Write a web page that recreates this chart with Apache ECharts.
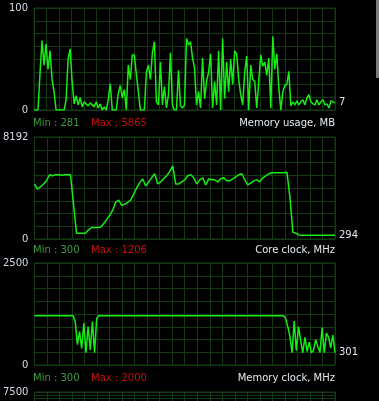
<!DOCTYPE html>
<html><head><meta charset="utf-8">
<script src="https://cdn.jsdelivr.net/npm/echarts/dist/echarts.min.js"></script>
<style>html,body{margin:0;padding:0;background:#000;}#c{width:379px;height:401px;}</style>
</head><body><div id="c"></div>
<script>
// GPU usage, % (one sample every ~2 px of timeline)
const gpuUsage = [
  0,0,0,36,68,44,65,40,58,30,18,
  0,0,0,0,0,
  10,50,60,28,6,
  14,5,12,3,8,6,4,7,5,3,
  8,2,6,0,3,0,10,26,0,0,
  0,16,24,12,20,0,44,30,54,54,
  35,18,0,0,0,37,44,30,56,67,
  8,5,47,5,23,2,15,56,5,0,
  0,39,4,2,5,70,64,67,51,41,
  5,18,2,51,11,28,37,55,2,28,
  5,58,0,70,11,47,18,50,25,58,
  55,30,15,5,37,53,0,44,30,28,
  2,28,54,43,47,34,51,2,72,40,
  55,22,0,18,24,25,38,4,8,5,
  9,5,8,10,5,12,15,8,6,5,
  10,5,8,10,5,6,2,9,8,7
];
// Memory usage, MB
const memUsage = [
  4424,4014,4178,4424,4669,5161,5079,5161,5161,5120,
  5161,5161,5161,2785,459,459,459,459,737,926,
  926,926,942,1229,1556,1884,2294,2949,3113,2703,
  2785,2949,3113,3604,4096,4506,4833,4260,4588,4915,
  5243,4424,4588,4833,5079,5407,5865,4424,4424,4588,
  4751,5079,5161,4915,4424,4751,4915,4342,4833,4751,
  4751,4588,4833,4915,4669,4669,4833,4997,5161,5243,
  4751,4342,4506,4669,4751,4588,4915,5079,5243,5325,
  5325,5325,5325,5325,5366,3359,532,467,328,294,
  294,294,294,294,294,294,294,294,294,294,294
];
// Core clock, MHz
const coreClock = [
  1206,1206,1206,1206,1206,1206,1206,1206,1206,1206,
  1206,1206,1206,1206,1206,1206,1206,1206,1206,
  1062,500,817,408,1021,300,939,368,1062,300,1144,
  1206,1206,1206,1206,1206,1206,1206,1206,1206,1206,
  1206,1206,1206,1206,1206,1206,1206,1206,1206,1206,
  1206,1206,1206,1206,1206,1206,1206,1206,1206,1206,
  1206,1206,1206,1206,1206,1206,1206,1206,1206,1206,
  1206,1206,1206,1206,1206,1206,1206,1206,1206,1206,
  1206,1206,1206,1206,1206,1206,1206,1206,1206,1206,
  1206,1206,1206,1206,1206,1206,1206,1206,1206,1206,
  1206,1206,1206,1206,1206,1206,1206,1206,1206,1206,
  1206,1206,1206,1206,1206,1206,1206,
  1144,939,700,300,1080,350,940,600,300,680,330,560,
  300,360,620,450,310,915,300,780,680,420,735,301
];
const yMaxValues = [100, 8192, 2500, 7500];
const headerTitles = ['GPU usage, %', 'Memory usage, MB', 'Core clock, MHz', 'Memory clock, MHz'];
const headerMin = ['', 'Min : 281', 'Min : 300', 'Min : 300'];
const headerMax = ['', 'Max : 5865', 'Max : 1206', 'Max : 2000'];
const seriesData = [gpuUsage, memUsage, coreClock];

const FONT = '"DejaVu Sans", sans-serif';
const GRIDC = '#133a13';
const LINEC = '#14ee14';
const tops = [8, 137, 263, 392];
const headerY = [-5, 123, 250.5, 378];

const grid = [], xAxis = [], yAxis = [], series = [], graphic = [];
for (let i = 0; i < 4; i++) {
  grid.push({left: 34, top: tops[i], width: 301, height: 102, show: true,
    borderColor: GRIDC, borderWidth: 1, backgroundColor: '#000'});
  const n = i < 3 ? seriesData[i].length : 2;
  xAxis.push({type: 'category', gridIndex: i, boundaryGap: false, show: false,
    data: Array.from({length: n}, (_, k) => k)});
  xAxis.push({type: 'value', gridIndex: i, min: 0, max: 24, interval: 1, position: 'top',
    axisLine: {show: false}, axisTick: {show: false}, axisLabel: {show: false},
    splitLine: {show: true, lineStyle: {color: GRIDC, width: 1}}});
  const mx = yMaxValues[i];
  yAxis.push({type: 'value', gridIndex: i, min: 0, max: mx, interval: mx / 8,
    axisLine: {show: false}, axisTick: {show: false},
    splitLine: {show: true, lineStyle: {color: GRIDC, width: 1}},
    axisLabel: {color: '#d4dde8', fontSize: 10, fontFamily: FONT, margin: 6,
      showMinLabel: true, showMaxLabel: true,
      formatter: v => (Math.abs(v) < 1e-6 || Math.abs(v - mx) < 1e-6) ? String(Math.round(v)) : ''}});
  if (i < 3) {
    const d = seriesData[i];
    series.push({type: 'line', xAxisIndex: 2 * i, yAxisIndex: i, data: d,
      symbol: 'none', showSymbol: false, animation: false,
      lineStyle: {color: LINEC, width: 1.5},
      endLabel: {show: true, formatter: () => String(d[d.length - 1]), color: '#dfe6ee',
        fontSize: 10, fontFamily: FONT, distance: 4}});
  }
  const hy = headerY[i];
  if (headerMin[i]) graphic.push({type: 'text', x: 33, y: hy,
    style: {text: headerMin[i], fill: '#3f9a3f', font: '10px ' + FONT, verticalAlign: 'middle', align: 'left'}});
  if (headerMax[i]) graphic.push({type: 'text', x: 91, y: hy,
    style: {text: headerMax[i], fill: '#c01010', font: '10px ' + FONT, verticalAlign: 'middle', align: 'left'}});
  graphic.push({type: 'text', x: 335, y: hy,
    style: {text: headerTitles[i], fill: '#e4eaf0', font: '10px ' + FONT, verticalAlign: 'middle', align: 'right'}});
}
graphic.push({type: 'rect', shape: {x: 376, y: 0, width: 3, height: 78}, style: {fill: '#7a7a7a'}});

const chart = echarts.init(document.getElementById('c'), null, {renderer: 'canvas'});
chart.setOption({backgroundColor: '#000', animation: false, grid, xAxis, yAxis, series, graphic});
</script></body></html>
